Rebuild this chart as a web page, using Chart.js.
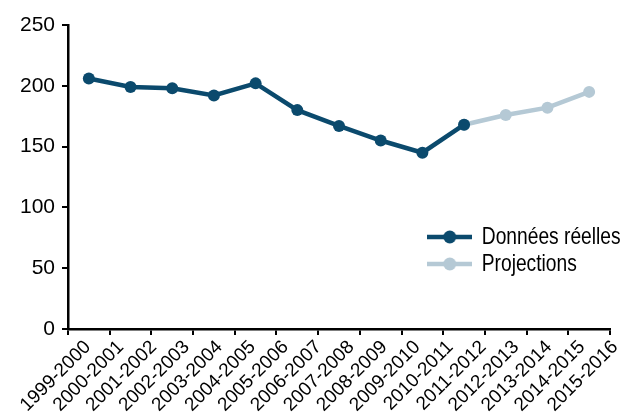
<!DOCTYPE html>
<html>
<head>
<meta charset="utf-8">
<script src="https://cdn.jsdelivr.net/npm/chart.js@4.4.0/dist/chart.umd.min.js"></script>
<style>
  html, body { margin: 0; padding: 0; background: #fff; }
  #wrap { width: 624px; height: 418px; position: relative; }
</style>
</head>
<body>
<div id="wrap"><canvas id="chart"></canvas></div>
<script>
// données
const periods = ["1999-2000", "2000-2001", "2001-2002", "2002-2003", "2003-2004", "2004-2005",
  "2005-2006", "2006-2007", "2007-2008", "2008-2009", "2009-2010", "2010-2011",
  "2011-2012", "2012-2013", "2013-2014", "2014-2015", "2015-2016"];
const points = ["p1", "p2", "p3", "p4", "p5", "p6", "p7", "p8", "p9", "p10", "p11", "p12", "p13"];
const realValues = [206, 199, 198, 192, 202, 180, 167, 155, 145, 168];
const projValues = [176, 182, 195];
const yTicks = [0, 50, 100, 150, 200, 250];

const DARK = "#0b4a6d";
const LIGHT = "#b5c9d5";
const SQUEEZE = 0.8; // texte de légende étroit

// la projection part du dernier point réel
const projSeries = realValues.map((v, i) => i === realValues.length - 1 ? v : null).concat(projValues);

// icône de légende : trait + rond (élargie, puis comprimée avec la légende)
function legendIcon(color) {
  const c = document.createElement("canvas");
  c.width = 56; c.height = 14;
  const g = c.getContext("2d");
  g.strokeStyle = color; g.lineWidth = 4.5;
  g.beginPath(); g.moveTo(0, 7); g.lineTo(56, 7); g.stroke();
  g.fillStyle = color;
  g.beginPath(); g.ellipse(28, 7, 6.5 / SQUEEZE, 6.5, 0, 0, Math.PI * 2); g.fill();
  return c;
}
const icons = [legendIcon(DARK), legendIcon(LIGHT)];

// place la légende en bas à droite de la zone du graphique, en police étroite
const legendMover = {
  id: "legendMover",
  afterLayout(chart) {
    const l = chart.legend;
    l.left = 425; l.right = l.left + l.width;
    l.top = 222; l.bottom = l.top + l.height;
    if (!l._squeezed) {
      const draw = l.draw.bind(l);
      l.draw = function (area) {
        const ctx = this.ctx;
        ctx.save();
        ctx.translate(this.left, 0);
        ctx.scale(SQUEEZE, 1);
        ctx.translate(-this.left, 0);
        draw(area);
        ctx.restore();
      };
      l._squeezed = true;
    }
  }
};

new Chart(document.getElementById("chart"), {
  type: "line",
  data: {
    labels: points,
    datasets: [
      {
        label: "Données réelles",
        data: realValues,
        borderColor: DARK,
        backgroundColor: DARK,
        borderWidth: 4.5,
        pointRadius: 6,
        pointBorderWidth: 0,
        tension: 0
      },
      {
        label: "Projections",
        data: projSeries,
        borderColor: LIGHT,
        backgroundColor: LIGHT,
        borderWidth: 4.5,
        pointRadius: 6,
        pointBorderWidth: 0,
        tension: 0
      }
    ]
  },
  options: {
    responsive: true,
    maintainAspectRatio: false,
    animation: false,
    layout: { padding: { top: 25, right: 7, left: 0, bottom: 0 } },
    plugins: {
      tooltip: { enabled: false },
      legend: {
        position: "chartArea",
        align: "start",
        labels: {
          usePointStyle: true,
          pointStyleWidth: 56,
          padding: 3,
          color: "#000",
          font: { family: "'Liberation Sans', Arial, sans-serif", size: 24 },
          generateLabels: chart => chart.data.datasets.map((ds, i) => ({
            text: ds.label,
            pointStyle: icons[i],
            fillStyle: ds.borderColor,
            strokeStyle: ds.borderColor,
            lineWidth: 0,
            datasetIndex: i
          }))
        }
      }
    },
    scales: {
      x: {
        type: "category",
        offset: true,
        weight: 0,
        border: { display: true, color: "#000", width: 2.5 },
        grid: { display: true, drawOnChartArea: false, color: "#000", lineWidth: 2, tickLength: 6, offset: true },
        ticks: { display: false }
      },
      x2: {
        type: "linear",
        position: "bottom",
        weight: 1,
        min: -0.6,
        max: 15.85,
        afterFit: s => { s.height = 83; },
        border: { display: false },
        grid: { display: false },
        afterBuildTicks: axis => { axis.ticks = periods.map((p, i) => ({ value: i })); },
        ticks: {
          autoSkip: false,
          maxRotation: 45,
          minRotation: 45,
          padding: -7,
          color: "#000",
          font: { family: "'Liberation Sans', Arial, sans-serif", size: 19 },
          callback: v => periods[v]
        }
      },
      y: {
        min: 0,
        max: 250,
        afterFit: s => { s.width = 68; },
        afterBuildTicks: axis => { axis.ticks = yTicks.map(v => ({ value: v })); },
        border: { display: true, color: "#000", width: 2.5 },
        grid: { display: true, drawOnChartArea: false, color: "#000", lineWidth: 2, tickLength: 6 },
        ticks: {
          padding: 7,
          color: "#000",
          font: { family: "'Liberation Sans', Arial, sans-serif", size: 21 }
        }
      }
    }
  },
  plugins: [legendMover]
});
</script>
</body>
</html>
